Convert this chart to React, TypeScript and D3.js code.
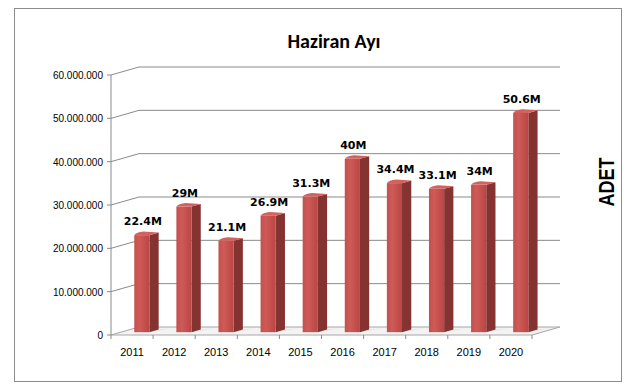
import * as React from 'react';
import * as d3 from 'd3';

// data
const years = ['2011', '2012', '2013', '2014', '2015', '2016', '2017', '2018', '2019', '2020'];
const counts = [22.4e6, 29e6, 21.1e6, 26.9e6, 31.3e6, 40e6, 34.4e6, 33.1e6, 34e6, 50.6e6];
const countLabels = ['22.4M', '29M', '21.1M', '26.9M', '31.3M', '40M', '34.4M', '33.1M', '34M', '50.6M'];
const yTicks = [0, 10e6, 20e6, 30e6, 40e6, 50e6, 60e6];

const W = 630;
const H = 391;
const DX = 28; // depth offset of the back wall
const DY = 8;

const trLocale = d3.formatLocale({ decimal: ',', thousands: '.', grouping: [3], currency: ['', ''] });
const fmt = trLocale.format(',');

const App = (): JSX.Element => {
    const x = d3.scaleBand<string>().domain(years).range([111, 532]);
    const y = d3.scaleLinear().domain([0, 60e6]).range([335, 75]);

    const y0 = y(0);
    const xL = x.range()[0];
    const xR = x.range()[1];

    const f = 0.35;  // depth position of bar front
    const bd = 0.33; // bar depth as share of the floor depth
    const bw = x.bandwidth() * 0.36;

    return (
        <svg width={W} height={H} style={{ position: 'absolute', left: 0, top: 0, background: '#fff' }}>
            <defs>
                <linearGradient id="front" x1="0" x2="1" y1="0" y2="0">
                    <stop offset="0" stopColor="#c4504d" />
                    <stop offset="0.35" stopColor="#cf5b58" />
                    <stop offset="1" stopColor="#b94643" />
                </linearGradient>
            </defs>
            <rect x={14.5} y={8.5} width={607} height={373} fill="#fff" stroke="#8c8c8c" />

            <text x={334} y={48} textAnchor="middle" fontFamily="Carlito, Lato, sans-serif" fontWeight="bold" fontSize={20}>
                Haziran Ayı
            </text>

            {/* floor */}
            <path
                d={`M${xL},${y0}L${xR},${y0}L${xR + DX},${y0 - DY}L${xL + DX},${y0 - DY}Z`}
                fill="#f3f3f3"
                stroke="#a6a6a6"
            />

            {/* grid lines on the wall */}
            {yTicks.map(t => (
                <g key={t}>
                    {t > 0 && (
                        <path
                            d={`M${xL},${y(t)}L${xL + DX},${y(t) - DY}L${xR + DX},${y(t) - DY}`}
                            fill="none"
                            stroke="#8a8a8a"
                        />
                    )}
                    <line x1={xL - 4} x2={xL} y1={y(t)} y2={y(t)} stroke="#8a8a8a" />
                    <text x={103} y={y(t) + 4} textAnchor="end" fontFamily="Liberation Sans, Arial, sans-serif" fontSize={10}>
                        {fmt(t)}
                    </text>
                </g>
            ))}
            <line x1={xL} x2={xL} y1={y(0)} y2={y(60e6)} stroke="#8a8a8a" />

            {/* x axis ticks and labels */}
            {years.map(yr => (
                <line key={'t' + yr} x1={x(yr)} x2={x(yr)} y1={y0} y2={y0 + 4} stroke="#8a8a8a" />
            ))}
            <line x1={xR} x2={xR} y1={y0} y2={y0 + 4} stroke="#8a8a8a" />
            {years.map(yr => (
                <text
                    key={'l' + yr}
                    x={(x(yr) as number) + x.bandwidth() / 2}
                    y={356}
                    textAnchor="middle"
                    fontFamily="Liberation Sans, Arial, sans-serif"
                    fontSize={11}
                >
                    {yr}
                </text>
            ))}

            {/* bars */}
            {years.map((yr, i) => {
                const bx = (x(yr) as number) + (x.bandwidth() - bw) / 2 + f * DX;
                const by = y0 - f * DY;
                const top = y(counts[i]) - f * DY;
                const ddx = bd * DX;
                const ddy = bd * DY;
                return (
                    <g key={'b' + yr}>
                        <path
                            d={`M${bx + bw},${by}L${bx + bw + 22},${by - 4}L${bx + bw + ddx},${by - ddy}Z`}
                            fill="#e2e2e2"
                        />
                        <path
                            d={`M${bx + bw},${top}L${bx + bw + ddx},${top - ddy}L${bx + bw + ddx},${by - ddy}L${bx + bw},${by}Z`}
                            fill="#843330"
                        />
                        <rect x={bx} y={top} width={bw} height={by - top} fill="url(#front)" />
                        <path
                            d={`M${bx},${top}Q${bx + 2},${top - 3} ${bx + ddx},${top - ddy - 1}L${bx + bw + ddx},${top - ddy}Q${bx + bw + 4},${top - 1} ${bx + bw},${top}Z`}
                            fill="#d3625f"
                        />
                        <text
                            x={bx + bw / 2 + 1}
                            y={top - 10}
                            textAnchor="middle"
                            fontFamily="DejaVu Sans, Verdana, sans-serif"
                            fontWeight="bold"
                            fontSize={11}
                        >
                            {countLabels[i]}
                        </text>
                    </g>
                );
            })}

            <text
                transform="translate(614,182) rotate(-90)"
                textAnchor="middle"
                fontFamily="Liberation Sans Narrow, Liberation Sans, Arial, sans-serif"
                fontWeight="bold"
                fontSize={22}
                textLength={49}
                lengthAdjust="spacingAndGlyphs"
            >
                ADET
            </text>
        </svg>
    );
};

export default App;
